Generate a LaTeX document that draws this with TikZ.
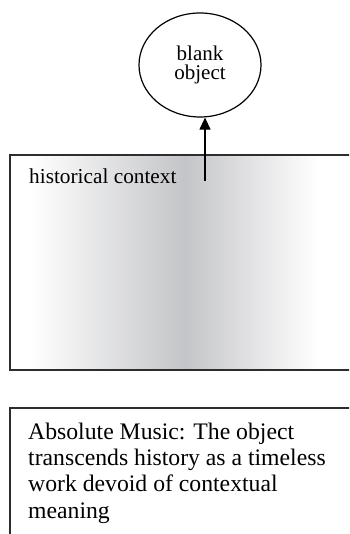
\documentclass[tikz,border=0pt]{standalone}
\usepackage{fontspec}
\setmainfont{Liberation Serif}
\usetikzlibrary{arrows.meta,shapes.geometric}
\definecolor{framegray}{RGB}{45,45,45}
\definecolor{shadegray}{RGB}{196,197,200}
% white -- grey -- white band across the context box
% (TikZ maps the 25bp--75bp part of a shading onto the filled path)
\pgfdeclarehorizontalshading{greyband}{100bp}{%
  color(0bp)=(white); color(28bp)=(white); color(50bp)=(shadegray);
  color(69bp)=(white); color(100bp)=(white)}
\tikzset{
  frame/.style={draw=framegray, line width=1.4pt},
  objnode/.style={ellipse, draw=black, line width=1.2pt, minimum width=122pt,
    minimum height=104pt, inner sep=0pt, align=center,
    font=\fontsize{21}{19.5}\selectfont},
  label/.style={anchor=base west, inner sep=0pt, align=left},
  link/.style={draw=black, line width=1.1pt, -{Triangle[length=12pt,width=11pt]}}
}
\begin{document}
\begin{tikzpicture}[x=1pt,y=1pt]
  \useasboundingbox (0,0) rectangle (349,534);
  \clip (0,0) rectangle (349,534);
  % context box with horizontal grey band
  \shade[shading=greyband] (10,164) rectangle (360,379);
  \draw[frame] (10,164) rectangle (360,379);
  \node[label, font=\fontsize{21.3}{24}\selectfont] (ctx) at (29,350) {historical context};
  % the object above the context
  \node[objnode] (obj) at (200,469) {blank\\object};
  \coordinate (src) at (205,353);
  \draw[link] (src) -- (src |- obj.south);
  % caption box (the last line sits on the anchor's baseline)
  \draw[frame] (10,-20) rectangle (360,126);
  \node[label, font=\fontsize{23.7}{26}\selectfont] (cap) at (28,16)
    {Absolute Music: The object\\transcends history as a timeless\\work devoid of contextual\\meaning};
\end{tikzpicture}
\end{document}
